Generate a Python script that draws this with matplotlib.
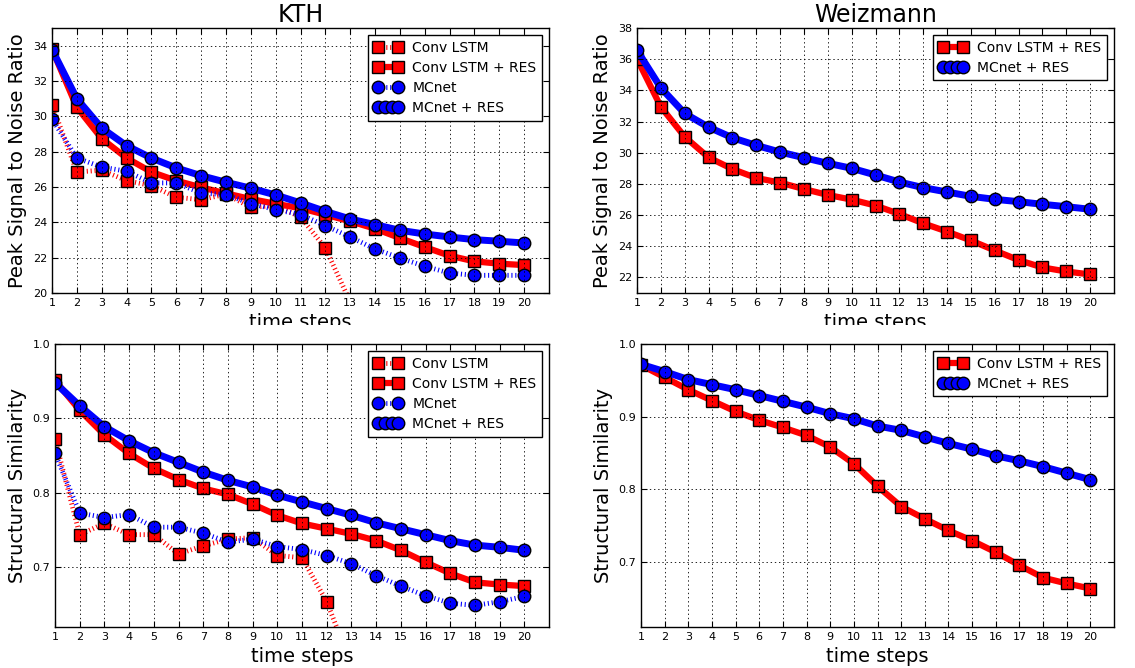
import numpy as np
import matplotlib
matplotlib.use("Agg")
import matplotlib.pyplot as plt
from matplotlib.legend_handler import HandlerLine2D
from matplotlib.patches import Rectangle

plt.rcParams['font.family'] = ['DejaVu Sans']
plt.rcParams['lines.scale_dashes'] = False

steps = list(range(1, 21))

# KTH PSNR
kth_psnr_convlstm = [30.66, 26.85, 26.95, 26.36, 26.08, 25.42, 25.28, 25.60, 24.85, 24.95,
                     24.30, 22.55, 19.50, 18.60, 17.90, 17.30, 16.80, 16.40, 16.10, 15.80]
kth_psnr_convlstm_res = [33.80, 30.51, 28.74, 27.64, 26.85, 26.36, 25.98, 25.64, 25.32, 25.05,
                         24.80, 24.43, 24.06, 23.64, 23.11, 22.60, 22.11, 21.79, 21.66, 21.58]
kth_psnr_mcnet = [29.85, 27.64, 27.13, 26.89, 26.23, 26.23, 25.66, 25.57, 25.06, 24.72,
                  24.44, 23.81, 23.17, 22.49, 21.98, 21.51, 21.13, 21.00, 21.00, 21.00]
kth_psnr_mcnet_res = [33.78, 31.00, 29.34, 28.34, 27.64, 27.08, 26.64, 26.27, 25.93, 25.55,
                      25.10, 24.62, 24.19, 23.87, 23.55, 23.34, 23.17, 23.02, 22.93, 22.83]

# KTH SSIM
kth_ssim_convlstm = [0.872, 0.744, 0.759, 0.744, 0.744, 0.718, 0.729, 0.738, 0.740, 0.716,
                     0.713, 0.654, 0.569, 0.530, 0.500, 0.480, 0.460, 0.450, 0.440, 0.430]
kth_ssim_convlstm_res = [0.951, 0.911, 0.878, 0.853, 0.833, 0.818, 0.806, 0.798, 0.785, 0.770,
                         0.759, 0.752, 0.745, 0.736, 0.723, 0.707, 0.692, 0.680, 0.677, 0.675]
kth_ssim_mcnet = [0.853, 0.773, 0.767, 0.771, 0.754, 0.754, 0.746, 0.734, 0.738, 0.728,
                  0.724, 0.716, 0.705, 0.689, 0.675, 0.662, 0.652, 0.649, 0.654, 0.661]
kth_ssim_mcnet_res = [0.948, 0.917, 0.889, 0.870, 0.854, 0.841, 0.828, 0.817, 0.808, 0.797,
                      0.788, 0.779, 0.770, 0.760, 0.752, 0.744, 0.736, 0.730, 0.727, 0.723]

# Weizmann PSNR
wz_psnr_convlstm_res = [36.02, 32.94, 31.02, 29.70, 28.95, 28.38, 28.08, 27.67, 27.29, 26.99,
                        26.61, 26.07, 25.47, 24.94, 24.37, 23.73, 23.11, 22.64, 22.38, 22.19]
wz_psnr_mcnet_res = [36.57, 34.16, 32.52, 31.64, 30.96, 30.47, 30.04, 29.68, 29.32, 29.00,
                     28.57, 28.12, 27.76, 27.48, 27.20, 27.01, 26.86, 26.69, 26.54, 26.37]

# Weizmann SSIM
wz_ssim_convlstm_res = [0.971, 0.954, 0.937, 0.922, 0.907, 0.895, 0.885, 0.874, 0.858, 0.835,
                        0.804, 0.776, 0.759, 0.743, 0.729, 0.713, 0.695, 0.678, 0.670, 0.663]
wz_ssim_mcnet_res = [0.972, 0.962, 0.951, 0.944, 0.937, 0.929, 0.921, 0.913, 0.904, 0.897,
                     0.887, 0.881, 0.872, 0.863, 0.855, 0.846, 0.839, 0.831, 0.822, 0.813]

labels = ["Conv LSTM", "Conv LSTM + RES", "MCnet", "MCnet + RES"]

W, H = 1135, 668
fig = plt.figure(figsize=(W / 100, H / 100), dpi=100)


def ax_at(x0, y0, x1, y1):
    return fig.add_axes([x0 / W, 1 - y1 / H, (x1 - x0) / W, (y1 - y0) / H])


ax_tl = ax_at(52, 28, 549, 293)
ax_bl = ax_at(55, 344, 549, 627)
ax_tr = ax_at(637, 28, 1114, 293)
ax_br = ax_at(641, 344, 1114, 627)

dotted = (0, (0.8, 2.0))
mk = dict(markersize=9, markeredgecolor='k', markeredgewidth=1.0)


def style(ax, ylim, yticks, ylabel, yfmt):
    ax.set_xlim(1, 21)
    ax.set_ylim(*ylim)
    ax.set_xticks(steps)
    ax.set_xticklabels([str(s) for s in steps])
    ax.set_yticks(yticks)
    ax.set_yticklabels([yfmt.format(v) for v in yticks])
    ax.set_axisbelow(False)
    ax.grid(True, color='k', linestyle=(0, (1, 2)), linewidth=0.6)
    ax.tick_params(direction='in', top=True, right=True, labelsize=8, length=4, width=0.8)
    ax.set_ylabel(ylabel, fontsize=14, labelpad=4)
    ax.set_xlabel("time steps", fontsize=14, labelpad=4)
    for s in ax.spines.values():
        s.set_linewidth(1.0)
        s.set_color('k')


def legend(ax, handles, names, mcres):
    hm = {mcres: HandlerLine2D(numpoints=4)}
    leg = ax.legend(handles, names, loc='upper right', fontsize=10, numpoints=2,
                    handlelength=2.1, handletextpad=0.7, labelspacing=0.45,
                    borderpad=0.4, borderaxespad=0.5, fancybox=False, framealpha=1,
                    edgecolor='k', handler_map=hm)
    leg.get_frame().set_linewidth(1.0)


# --- KTH panels ---
for ax, d_c, d_cr, d_m, d_mr, ylim, yt, yl, fmt in [
    (ax_tl, kth_psnr_convlstm, kth_psnr_convlstm_res, kth_psnr_mcnet, kth_psnr_mcnet_res,
     (20, 35), list(range(20, 35, 2)), "Peak Signal to Noise Ratio", "{:d}"),
    (ax_bl, kth_ssim_convlstm, kth_ssim_convlstm_res, kth_ssim_mcnet, kth_ssim_mcnet_res,
     (0.62, 1.0), [0.7, 0.8, 0.9, 1.0], "Structural Similarity", "{:.1f}"),
]:
    l1, = ax.plot(steps, d_c, color='red', linestyle=dotted, linewidth=3.5, marker='s', markerfacecolor='red', **mk)
    l2, = ax.plot(steps, d_cr, color='red', linestyle='-', linewidth=4.5, marker='s', markerfacecolor='red', **mk)
    l3, = ax.plot(steps, d_m, color='blue', linestyle=dotted, linewidth=3.5, marker='o', markerfacecolor='blue', **mk)
    l4, = ax.plot(steps, d_mr, color='blue', linestyle='-', linewidth=5, marker='o', markerfacecolor='blue', **mk)
    style(ax, ylim, yt, yl, fmt)
    legend(ax, [l1, l2, l3, l4], labels, l4)

# --- Weizmann panels ---
for ax, d_cr, d_mr, ylim, yt, yl, fmt in [
    (ax_tr, wz_psnr_convlstm_res, wz_psnr_mcnet_res, (21, 38), list(range(22, 39, 2)),
     "Peak Signal to Noise Ratio", "{:d}"),
    (ax_br, wz_ssim_convlstm_res, wz_ssim_mcnet_res, (0.61, 1.0), [0.7, 0.8, 0.9, 1.0],
     "Structural Similarity", "{:.1f}"),
]:
    l2, = ax.plot(steps, d_cr, color='red', linestyle='-', linewidth=4.5, marker='s', markerfacecolor='red', **mk)
    l4, = ax.plot(steps, d_mr, color='blue', linestyle='-', linewidth=5, marker='o', markerfacecolor='blue', **mk)
    style(ax, ylim, yt, yl, fmt)
    legend(ax, [l2, l4], [labels[1], labels[3]], l4)

ax_tl.set_title("KTH", fontsize=17, pad=4)
ax_tr.set_title("Weizmann", fontsize=17, pad=4)

# the lower panels hide the bottom part of the upper x labels
fig.patches.append(Rectangle((0, 1 - 337 / H), 1, 12 / H, transform=fig.transFigure,
                             facecolor='white', edgecolor='none', zorder=10))

fig.savefig("out.png", dpi=100)
